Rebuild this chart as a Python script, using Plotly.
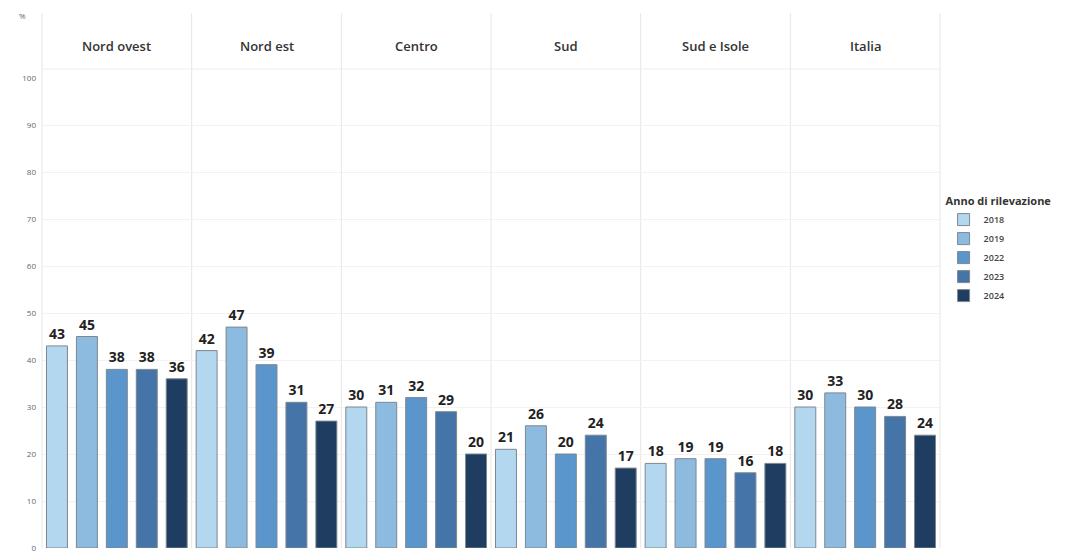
import plotly.graph_objects as go
from plotly.subplots import make_subplots

regions = ["Nord ovest", "Nord est", "Centro", "Sud", "Sud e Isole", "Italia"]
years = ["2018", "2019", "2022", "2023", "2024"]
values = {
    "2018": [43, 42, 30, 21, 18, 30],
    "2019": [45, 47, 31, 26, 19, 33],
    "2022": [38, 39, 32, 20, 19, 30],
    "2023": [38, 31, 29, 24, 16, 28],
    "2024": [36, 27, 20, 17, 18, 24],
}
colors = ["#b4d7f0", "#8dbbe0", "#5a95cb", "#4574a8", "#1f3d60"]
y_ticks = [0, 10, 20, 30, 40, 50, 60, 70, 80, 90, 100]

FONT = "Open Sans"
n = len(regions)
fig = make_subplots(rows=1, cols=n, shared_yaxes=True, horizontal_spacing=0)

for ci, reg in enumerate(regions):
    for yi, yr in enumerate(years):
        v = values[yr][ci]
        fig.add_trace(
            go.Bar(
                x=[yr], y=[v], name=yr,
                marker=dict(color=colors[yi], line=dict(color="#7d8790", width=1)),
                text=[str(v)], textposition="outside", cliponaxis=False,
                textfont=dict(family=FONT, size=14, color="#222222", weight="bold"),
                legendgroup=yr, showlegend=(ci == 0),
                hovertemplate=reg + " " + yr + ": %{y}<extra></extra>",
            ),
            row=1, col=ci + 1,
        )
    fig.update_xaxes(
        type="category", categoryorder="array", categoryarray=years,
        showticklabels=False, showgrid=False, zeroline=False, showline=False,
        ticks="", automargin=False, row=1, col=ci + 1,
    )

fig.update_yaxes(
    range=[0, 100], tickvals=y_ticks, showgrid=True, gridcolor="#f2f2f2",
    gridwidth=1, zeroline=False, showline=False, ticks="", automargin=False,
    tickfont=dict(family=FONT, size=8, color="#666666"),
)
fig.update_yaxes(ticklabelstandoff=5, row=1, col=1)

shapes = []
for k in range(n + 1):
    shapes.append(dict(
        type="line", xref="paper", yref="paper", x0=k / n, x1=k / n,
        y0=0, y1=1.138, line=dict(color="#e6e6e6", width=1), layer="below",
    ))
shapes.append(dict(
    type="line", xref="paper", yref="paper", x0=0, x1=1, y0=1.019, y1=1.019,
    line=dict(color="#eeeeee", width=1), layer="below",
))

annotations = []
for ci, reg in enumerate(regions):
    annotations.append(dict(
        text=reg, xref="paper", yref="paper", x=(ci + 0.5) / n, y=1.068,
        showarrow=False, xanchor="center", yanchor="middle",
        font=dict(family=FONT, size=13, color="#333333", weight=600),
    ))
annotations.append(dict(
    text="%", xref="paper", yref="paper", x=-0.022, y=1.132,
    showarrow=False, xanchor="center", yanchor="middle",
    font=dict(family=FONT, size=8, color="#666666"),
))

fig.update_layout(
    width=1078, height=548,
    margin=dict(l=34, r=146, t=70, b=8, autoexpand=False),
    plot_bgcolor="white", paper_bgcolor="white",
    bargap=0.3,
    shapes=shapes, annotations=annotations,
    legend=dict(
        x=1.004, xanchor="left", y=0.76, yanchor="top",
        title=dict(text="<b>Anno di rilevazione</b>",
                   font=dict(family=FONT, size=11, color="#333333")),
        font=dict(family=FONT, size=9, color="#444444", weight=600),
        itemwidth=30, tracegroupgap=0,
    ),
)

fig.write_html("out.html")
